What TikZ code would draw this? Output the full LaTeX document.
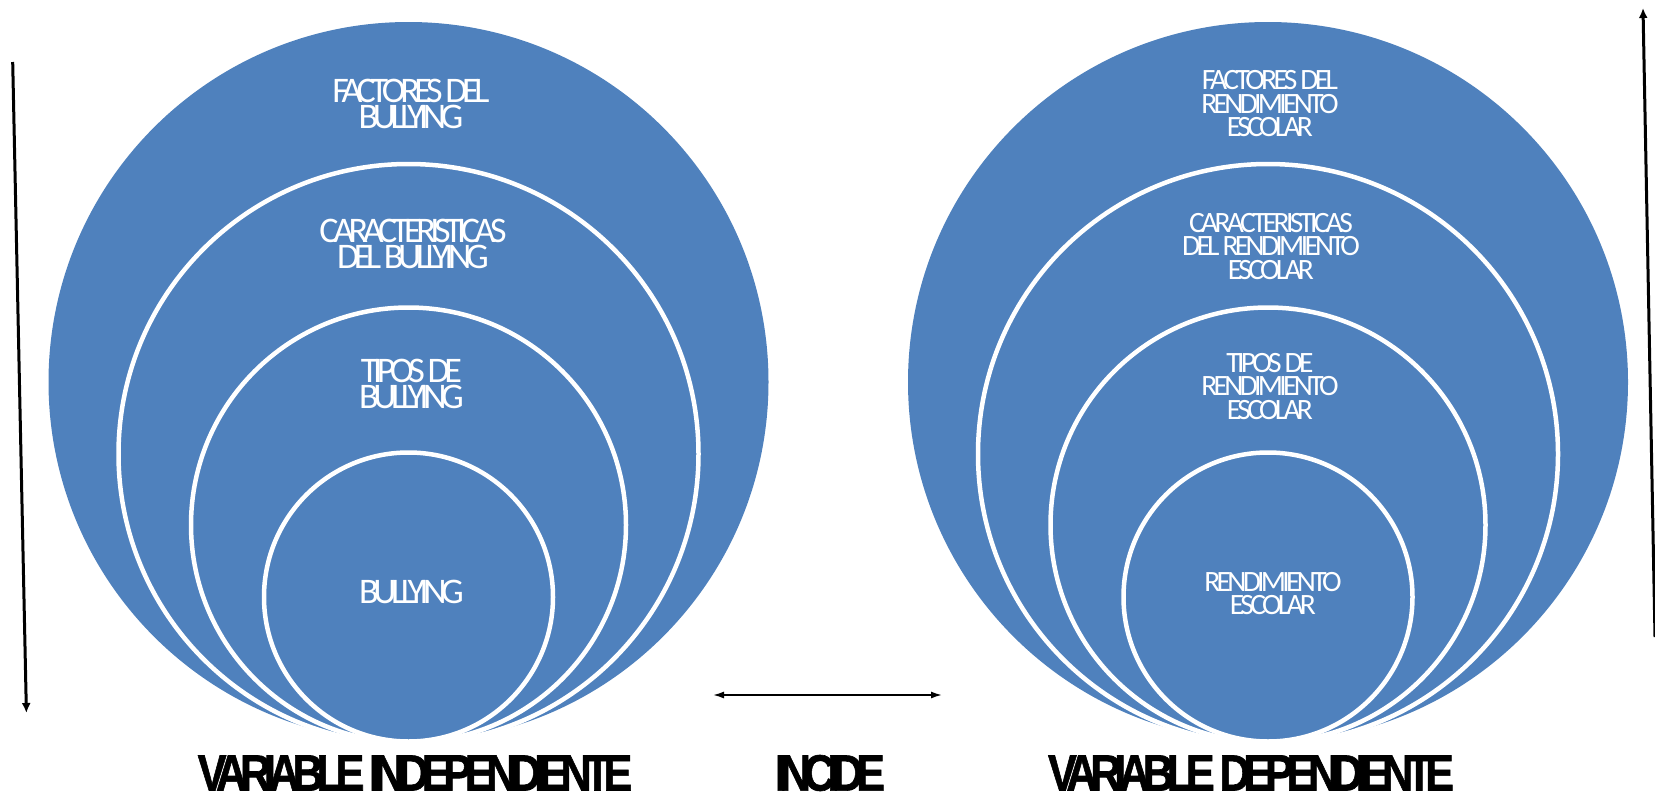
\documentclass[tikz,border=0pt]{standalone}
\usepackage{fontspec}
\usepackage{graphicx}
\setmainfont{Carlito}
\newfontfamily\labfont{Liberation Sans}[FakeBold=1.2]
\usetikzlibrary{arrows.meta}
\definecolor{cblue}{HTML}{4F81BD}
\newcommand{\squeeze}[1]{\scalebox{0.85}[1]{#1}}
\begin{document}
\begin{tikzpicture}[x=1pt,y=-1pt,
  bigdisc/.style={circle, fill=cblue, inner sep=0pt, outer sep=0pt},
  ring/.style={circle, fill=cblue, draw=white, line width=4.5pt, inner sep=0pt, outer sep=0pt},
  ltxt/.style={text=white, align=center, inner sep=0pt,
    font=\fontsize{36}{26}\selectfont\addfontfeatures{LetterSpace=-15}},
  rtxt/.style={text=white, align=center, inner sep=0pt,
    font=\fontsize{29.5}{23.5}\selectfont\addfontfeatures{LetterSpace=-12.5}},
  lab/.style={text=black, inner sep=0pt,
    font=\labfont\bfseries\fontsize{51}{51}\selectfont\addfontfeatures{LetterSpace=-17}},
  bigarrow/.style={line width=3pt, -{Latex[length=10pt,width=9pt]}},
  midarrow/.style={line width=1.6pt, {Latex[length=11pt,width=7pt]}-{Latex[length=11pt,width=7pt]}}
]
\useasboundingbox (0,0) rectangle (1655,798);
% left set
\node[bigdisc, minimum size=720pt] (L1) at (408.5,382) {};
\node[ring, minimum size=580pt] (L2) at (408.5,454) {};
\node[ring, minimum size=435pt] (L3) at (408.5,525) {};
\node[ring, minimum size=289pt] (L4) at (408.5,597) {};
% right set
\node[bigdisc, minimum size=720pt] (R1) at (1268,382) {};
\node[ring, minimum size=580pt] (R2) at (1268,454) {};
\node[ring, minimum size=435pt] (R3) at (1268,525) {};
\node[ring, minimum size=289pt] (R4) at (1268,597) {};
% left texts
\node[ltxt] (tl1) at (411,103.5) {FACTORES DEL\\BULLYING};
\node[ltxt] (tl2) at (413,244) {CARACTERISTICAS\\DEL BULLYING};
\node[ltxt] (tl3) at (411.5,384) {TIPOS DE\\BULLYING};
\node[ltxt] (tl4) at (411.5,592) {BULLYING};
% right texts
\node[rtxt] (tr1) at (1270,104) {FACTORES DEL\\RENDIMIENTO\\ESCOLAR};
\node[rtxt] (tr2) at (1271,246.5) {CARACTERISTICAS\\DEL RENDIMIENTO\\ESCOLAR};
\node[rtxt] (tr3) at (1270,386.5) {TIPOS DE\\RENDIMIENTO\\ESCOLAR};
\node[rtxt] (tr4) at (1273,593.5) {RENDIMIENTO\\ESCOLAR};
% bottom labels
\node[lab] (vi) at (415,773) {\squeeze{VARIABLE INDEPENDIENTE}};
\node[lab] (inc) at (830,773) {\squeeze{INCIDE}};
\node[lab] (vd) at (1251,773) {\squeeze{VARIABLE DEPENDIENTE}};
% arrows
\coordinate (a1s) at (12.7,62);
\coordinate (a1e) at (26.4,713);
\draw[bigarrow] (a1s) -- (a1e);
\coordinate (a2s) at (1655,637);
\coordinate (a2e) at (1643,8);
\draw[bigarrow] (a2s) -- (a2e);
\coordinate (m1) at (713,695);
\coordinate (m2) at (942,695);
\draw[midarrow] (m1) -- (m2);
\end{tikzpicture}
\end{document}
